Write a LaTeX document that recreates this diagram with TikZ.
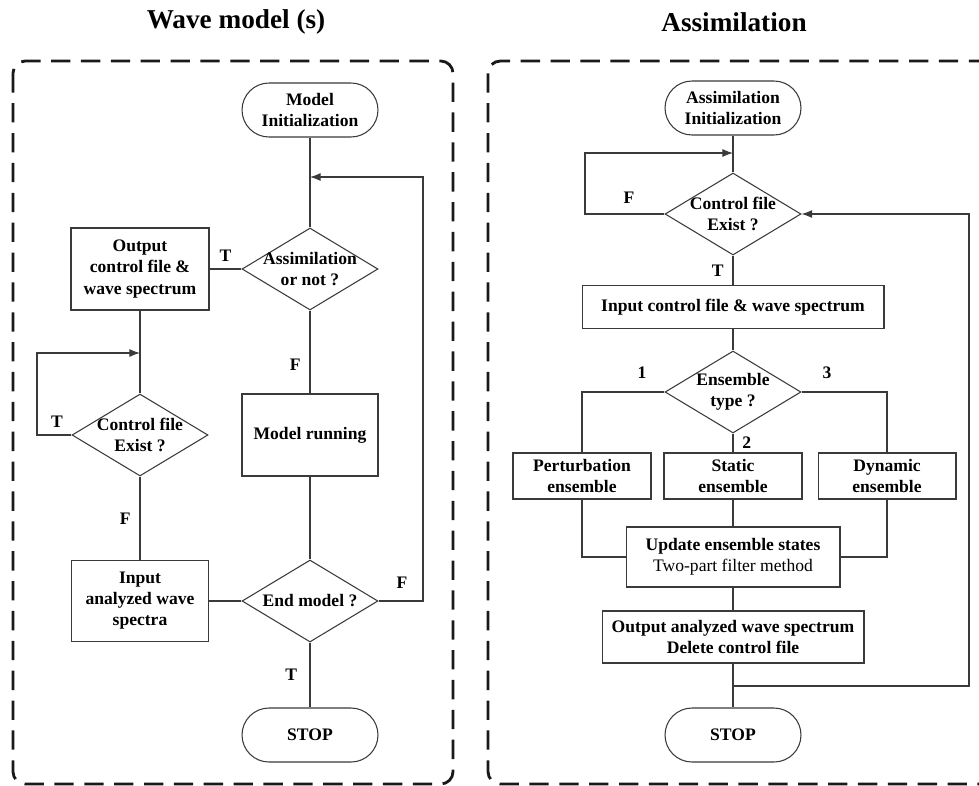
\documentclass[tikz,border=0pt]{standalone}
\usepackage{fontspec}
\setmainfont{Liberation Serif}
\usetikzlibrary{arrows.meta,shapes.geometric}
\definecolor{linea}{HTML}{3A3A3A}

\tikzset{
  panel/.style={draw=black!90, line width=1.6pt, dash pattern=on 11pt off 6pt, rounded corners=7pt},
  titulo/.style={font=\fontsize{15.5}{18}\selectfont\bfseries},
  terminal/.style={draw=linea, line width=0.6pt, rounded corners=0.54cm, minimum width=2.72cm, minimum height=1.08cm, align=center, font=\bfseries},
  proceso/.style={draw=linea, line width=0.6pt, align=center, font=\bfseries, inner sep=2pt},
  decision/.style={diamond, draw=linea, line width=0.6pt, inner sep=0pt, minimum width=2.72cm, minimum height=1.64cm,
    label={[align=center, font=\bfseries]center:#1}},
  flujo/.style={draw=linea, line width=0.6pt},
  flecha/.style={flujo, -{Latex[length=6pt,width=4.5pt]}},
  etiq/.style={font=\bfseries, inner sep=2pt}
}

\begin{document}
\begin{tikzpicture}[x=0.02cm, y=-0.02cm]
  \clip (0,0) rectangle (979,785);
  \fill[white] (0,0) rectangle (979,785);

  % Títulos y marcos
  \node[titulo] (tmodel) at (236,22) {Wave model (s)};
  \node[titulo] (tassim) at (734,22) {Assimilation};
  \draw[panel] (13,61) rectangle (453,784);
  \draw[panel] (488,61) rectangle (1000,784);

  % ---------- Modelo de oleaje ----------
  \node[terminal] (minit) at (310,110) {Model\\Initialization};
  \node[decision={Assimilation\\or not ?}] (assim) at (310,269) {};
  \node[proceso, minimum width=2.76cm, minimum height=1.64cm] (outc) at (140,269) {Output\\control file \&\\wave spectrum};
  \node[decision={Control file\\Exist ?}] (cfex) at (140,435) {};
  \node[proceso, minimum width=2.72cm, minimum height=1.64cm] (mrun) at (310,435) {Model running};
  \node[proceso, minimum width=2.74cm, minimum height=1.62cm] (inan) at (140,601) {Input\\analyzed wave\\spectra};
  \node[decision={End model ?}] (endm) at (310,601) {};
  \node[terminal] (stop1) at (310,735) {STOP};

  \coordinate (j1) at (310,177);
  \coordinate (rx) at (423,177);
  \coordinate (j2) at (140,353);
  \coordinate (lx) at (37,353);

  \draw[flujo] (minit) -- (assim);
  \draw[flujo] (assim) -- (outc) node[etiq, midway, above, yshift=2pt] {T};
  \draw[flujo] (assim) -- (mrun) node[etiq, pos=0.65, left, xshift=-3pt] {F};
  \draw[flujo] (outc) -- (cfex);
  \draw[flecha] (cfex.west) -| (lx) -- (j2);
  \node[etiq] (tcf) at (57,422) {T};
  \draw[flujo] (cfex) -- (inan) node[etiq, midway, left, xshift=-3pt] {F};
  \draw[flujo] (mrun) -- (endm);
  \draw[flujo] (inan) -- (endm);
  \draw[flecha] (endm.east) -| (rx) -- (j1);
  \node[etiq] (fend) at (402,583) {F};
  \draw[flujo] (endm) -- (stop1) node[etiq, midway, left, xshift=-5pt] {T};

  % ---------- Asimilación ----------
  \node[terminal] (ainit) at (733,108) {Assimilation\\Initialization};
  \node[decision={Control file\\Exist ?}] (cfex2) at (733,214) {};
  \node[proceso, minimum width=6.04cm, minimum height=0.86cm] (inctl) at (733,307) {Input control file \& wave spectrum};
  \node[decision={Ensemble\\type ?}] (enst) at (733,392) {};
  \node[proceso, minimum width=2.76cm, minimum height=0.92cm] (pert) at (582,476) {Perturbation\\ensemble};
  \node[proceso, minimum width=2.76cm, minimum height=0.92cm] (stat) at (733,476) {Static\\ensemble};
  \node[proceso, minimum width=2.76cm, minimum height=0.92cm] (dyn) at (887,476) {Dynamic\\ensemble};
  \node[proceso, minimum width=4.28cm, minimum height=1.2cm] (upd) at (733,557) {Update ensemble states\\{\mdseries Two-part filter method}};
  \node[proceso, minimum width=5.24cm, minimum height=1.04cm] (outan) at (733,637) {Output analyzed wave spectrum\\Delete control file};
  \node[terminal] (stop2) at (733,735) {STOP};

  \coordinate (j3) at (733,153);
  \coordinate (lx2) at (585,153);
  \coordinate (j4) at (733,686);
  \coordinate (rx2) at (969,214);

  \draw[flujo] (ainit) -- (cfex2);
  \draw[flecha] (cfex2.west) -| (lx2) -- (j3);
  \node[etiq] (fcf) at (629,198) {F};
  \draw[flujo] (cfex2) -- (inctl) node[etiq, midway, left, xshift=-3pt] {T};
  \draw[flujo] (inctl) -- (enst);
  \draw[flujo] (enst.west) -| (pert);
  \node[etiq] (uno) at (642,373) {1};
  \draw[flujo] (enst.east) -| (dyn);
  \node[etiq] (tres) at (827,373) {3};
  \draw[flujo] (enst) -- (stat) node[etiq, midway, right, xshift=3pt] {2};
  \draw[flujo] (pert) |- (upd);
  \draw[flujo] (dyn) |- (upd);
  \draw[flujo] (stat) -- (upd);
  \draw[flujo] (upd) -- (outan);
  \draw[flujo] (outan) -- (stop2);
  \draw[flecha] (j4) -| (rx2) -- (cfex2.east);
\end{tikzpicture}
\end{document}
